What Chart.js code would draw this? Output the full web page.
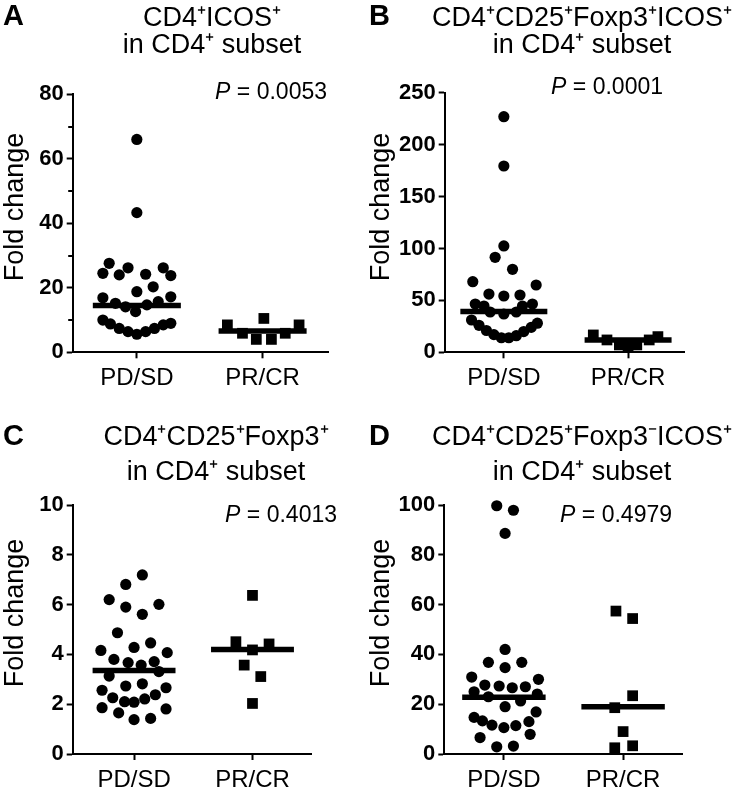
<!DOCTYPE html>
<html>
<head>
<meta charset="utf-8">
<script src="https://cdn.jsdelivr.net/npm/chart.js@4.4.0/dist/chart.umd.min.js"></script>
<style>
body { margin: 0; background: #fff; }
#wrap { position: relative; width: 732px; height: 795px; }
.panel { position: absolute; }
</style>
</head>
<body>
<div id="wrap">
  <div class="panel" style="left:0;top:0"><canvas id="chartA" width="366" height="395"></canvas></div>
  <div class="panel" style="left:366px;top:0"><canvas id="chartB" width="366" height="395"></canvas></div>
  <div class="panel" style="left:0;top:395px"><canvas id="chartC" width="366" height="400"></canvas></div>
  <div class="panel" style="left:366px;top:395px"><canvas id="chartD" width="366" height="400"></canvas></div>
</div>
<script>
const groups = ["PD/SD", "PR/CR"];

// A: CD4+ICOS+
const aPdValues = [66.0, 43.3, 27.6, 24.5, 24.0, 26.2, 24.2, 26.2, 23.8, 18.8, 20.3, 16.9, 15.2, 14.1, 12.6, 14.7, 15.7, 17.2,
  10.0, 8.8, 7.4, 6.4, 5.6, 6.4, 7.4, 8.5, 9.0];
const aPdJitter = [0, 0, -0.22, -0.27, -0.14, -0.07, 0.07, 0.21, 0.27, 0, 0.13, -0.27, -0.17, -0.09, -0.01, 0.08, 0.17, 0.27,
  -0.27, -0.21, -0.14, -0.07, 0, 0.07, 0.14, 0.21, 0.27];
const aPrValues = [8.5, 5.9, 4.0, 10.5, 4.0, 5.9, 8.5];
const aPrJitter = [-0.28, -0.16, -0.05, 0.01, 0.07, 0.18, 0.29];
const aMedians = [14.5, 6.6];

// B: CD4+CD25+Foxp3+ICOS+
const bPdValues = [226.9, 179.4, 102.4, 91.5, 79.9, 68.0, 64.8, 56.1, 54.2, 55.2, 46.5, 44.6, 46.5, 44.6, 38.8, 36.9, 38.8,
  31.1, 26.0, 21.0, 17.0, 14.0, 14.0, 16.0, 20.0, 24.0, 28.0];
const bPdJitter = [0, 0, 0, -0.07, 0.07, -0.25, 0.26, -0.12, 0, 0.13, -0.23, -0.16, 0.23, 0.15, -0.11, 0, 0.10,
  -0.26, -0.2, -0.14, -0.08, -0.02, 0.04, 0.1, 0.16, 0.22, 0.27];
const bPrValues = [16.7, 11.9, 7.1, 5.5, 7.1, 11.9, 15.1];
const bPrJitter = [-0.28, -0.17, -0.07, 0, 0.07, 0.17, 0.24];
const bMedians = [39.2, 11.9];

// C: CD4+CD25+Foxp3+
const cPdValues = [7.19, 6.81, 6.2, 5.9, 6.01, 5.61, 4.87, 4.16, 4.28, 4.46, 4.07, 3.80, 3.67, 3.57, 3.71, 3.13, 3.31,
  2.73, 2.82, 2.56, 2.66, 2.26, 2.10, 2.08, 2.21, 2.38, 1.86, 1.81, 1.65, 1.38, 1.43];
const cPdJitter = [0.07, -0.07, -0.21, -0.07, 0.21, 0.07, -0.14, -0.28, 0, 0.14, 0.28, -0.17, -0.05, 0.06, 0.17, -0.21, 0.21,
  -0.07, 0.07, -0.27, 0.27, -0.18, -0.08, 0, 0.09, 0.18, -0.27, 0.27, -0.13, 0, 0.14];
const cPrValues = [6.37, 4.51, 4.18, 4.42, 3.57, 3.11, 2.03];
const cPrJitter = [0, -0.14, 0, 0.14, -0.07, 0.07, 0];
const cMedians = [3.35, 4.2];

// D: CD4+CD25+Foxp3-ICOS+
const dPdValues = [99.7, 97.9, 88.6, 42.0, 36.8, 36.8, 34.7, 30.9, 30.0, 27.7, 27.3, 26.6, 27.0, 25.0, 24.1, 23.0, 21.3,
  19.0, 16.9, 14.7, 13.3, 11.6, 10.6, 11.4, 13.0, 6.6, 7.9, 2.9, 3.2];
const dPdJitter = [-0.06, 0.08, 0.01, 0.01, -0.13, 0.15, 0.01, -0.27, 0.29, -0.16, -0.04, 0.07, 0.18, -0.25, 0.28, -0.13, 0.14,
  0.01, 0.27, -0.25, -0.18, -0.10, 0, 0.10, 0.21, -0.20, 0.22, -0.06, 0.08];
const dPrValues = [57.4, 54.4, 23.4, 18.6, 9.0, 2.5, 3.3];
const dPrJitter = [-0.06, 0.08, 0.08, -0.07, 0, -0.07, 0.08];
const dMedians = [22.8, 19.0];

const FONT = '"Liberation Sans", Arial, Helvetica, sans-serif';

const panelText = {
  id: "panelText",
  afterDraw(chart, args, o) {
    const ctx = chart.ctx;
    ctx.save();
    ctx.fillStyle = "#000";
    ctx.textBaseline = "alphabetic";
    ctx.textAlign = "left";
    ctx.font = "bold 29px " + FONT;
    ctx.fillText(o.letter, 3, o.letterY);
    ctx.font = "27px " + FONT;
    ctx.textAlign = "center";
    o.title.forEach((t, i) => ctx.fillText(t, o.titleX, o.titleY[i]));
    // P value, italic P
    ctx.textAlign = "left";
    ctx.font = "23px " + FONT;
    const rest = " = " + o.p;
    const wRest = ctx.measureText(rest).width;
    ctx.font = "italic 23px " + FONT;
    const wP = ctx.measureText("P").width;
    const x0 = o.pRight - wRest - wP;
    ctx.fillText("P", x0, o.pY);
    ctx.font = "23px " + FONT;
    ctx.fillText(rest, x0 + wP, o.pY);
    // minor ticks on y axis (shorter than major)
    const ys = chart.scales.y;
    const left = chart.chartArea.left;
    ctx.strokeStyle = "#000";
    ctx.lineWidth = 2;
    ys.ticks.forEach((t) => {
      if (t.value % o.yStep !== 0) {
        const py = Math.round(ys.getPixelForValue(t.value));
        ctx.beginPath();
        ctx.moveTo(left - 4.5, py);
        ctx.lineTo(left, py);
        ctx.stroke();
      }
    });
    // y axis title
    ctx.font = "27px " + FONT;
    ctx.textAlign = "center";
    ctx.translate(22.7, o.yTitleY);
    ctx.rotate(-Math.PI / 2);
    ctx.fillText("Fold change", 0, 0);
    ctx.restore();
  }
};

function makePanel(id, h, area, xRange, yMax, yStep, pd, pdJ, pr, prJ, med, text) {
  const halfW = 0.35;
  text.yStep = yStep;
  const datasets = [
    {
      data: pd.map((v, i) => ({ x: pdJ[i], y: v })),
      pointStyle: "circle", pointRadius: 5.6, backgroundColor: "#000", borderWidth: 0, clip: false
    },
    {
      data: pr.map((v, i) => ({ x: 1 + prJ[i], y: v })),
      pointStyle: "rect", pointRadius: 7.6, backgroundColor: "#000", borderWidth: 0, clip: false
    }
  ];
  med.forEach((m, g) => {
    datasets.push({
      type: "line",
      data: [{ x: g - halfW, y: m }, { x: g + halfW, y: m }],
      borderColor: "#000", borderWidth: 5.5, pointRadius: 0, clip: false
    });
  });
  const xAxisH = 45;
  new Chart(document.getElementById(id), {
    type: "scatter",
    data: { datasets: datasets },
    options: {
      responsive: false,
      animation: false,
      devicePixelRatio: 1,
      layout: { padding: { left: 0, top: area.top, right: 366 - area.right, bottom: h - area.bottom - xAxisH } },
      plugins: { legend: { display: false }, tooltip: { enabled: false }, panelText: text },
      scales: {
        x: {
          type: "linear", min: xRange[0], max: xRange[1],
          afterBuildTicks: (s) => { s.ticks = [{ value: 0 }, { value: 1 }]; },
          afterFit: (s) => { s.height = xAxisH; },
          grid: { drawOnChartArea: false, drawTicks: true, tickLength: 6, tickColor: "#000", tickWidth: 2 },
          border: { display: true, color: "#000", width: 2 },
          ticks: { color: "#000", font: { family: FONT, size: 24 }, padding: 6, callback: (v) => groups[v] }
        },
        y: {
          min: 0, max: yMax,
          afterFit: (s) => { s.width = area.left; },
          grid: {
            drawOnChartArea: false, drawTicks: true, tickLength: 6, tickWidth: 2,
            tickColor: (c) => (c.tick && c.tick.value % yStep === 0 ? "#000" : "rgba(0,0,0,0)")
          },
          border: { display: true, color: "#000", width: 2 },
          ticks: {
            stepSize: yStep / 2, color: "#000", padding: 3,
            font: { family: FONT, size: 22, weight: "bold" },
            callback: (v) => (v % yStep === 0 ? v : "")
          }
        }
      }
    },
    plugins: [panelText]
  });
}

makePanel("chartA", 395, { left: 72.7, top: 94.3, right: 328, bottom: 352.3 }, [-0.51, 1.52], 80, 20,
  aPdValues, aPdJitter, aPrValues, aPrJitter, aMedians,
  { letter: "A", letterY: 25, title: ["CD4\u207AICOS\u207A", "in CD4\u207A subset"], titleX: 212, titleY: [26, 53],
    p: "0.0053", pRight: 327, pY: 99, yTitleY: 207 });

makePanel("chartB", 395, { left: 78.7, top: 92.7, right: 318, bottom: 352.3 }, [-0.476, 1.45], 250, 50,
  bPdValues, bPdJitter, bPrValues, bPrJitter, bMedians,
  { letter: "B", letterY: 25, title: ["CD4\u207ACD25\u207AFoxp3\u207AICOS\u207A", "in CD4\u207A subset"], titleX: 216, titleY: [26, 53],
    p: "0.0001", pRight: 297, pY: 94, yTitleY: 207 });

makePanel("chartC", 400, { left: 72.7, top: 110, right: 311.7, bottom: 359 }, [-0.518, 1.50], 10, 2,
  cPdValues, cPdJitter, cPrValues, cPrJitter, cMedians,
  { letter: "C", letterY: 50, title: ["CD4\u207ACD25\u207AFoxp3\u207A", "in CD4\u207A subset"], titleX: 216, titleY: [50, 85],
    p: "0.4013", pRight: 337, pY: 127, yTitleY: 218 });

makePanel("chartD", 400, { left: 78.3, top: 110, right: 316.7, bottom: 359 }, [-0.5, 1.5], 100, 20,
  dPdValues, dPdJitter, dPrValues, dPrJitter, dMedians,
  { letter: "D", letterY: 50, title: ["CD4\u207ACD25\u207AFoxp3\u207BICOS\u207A", "in CD4\u207A subset"], titleX: 216, titleY: [50, 85],
    p: "0.4979", pRight: 306, pY: 127, yTitleY: 218 });
</script>
</body>
</html>
